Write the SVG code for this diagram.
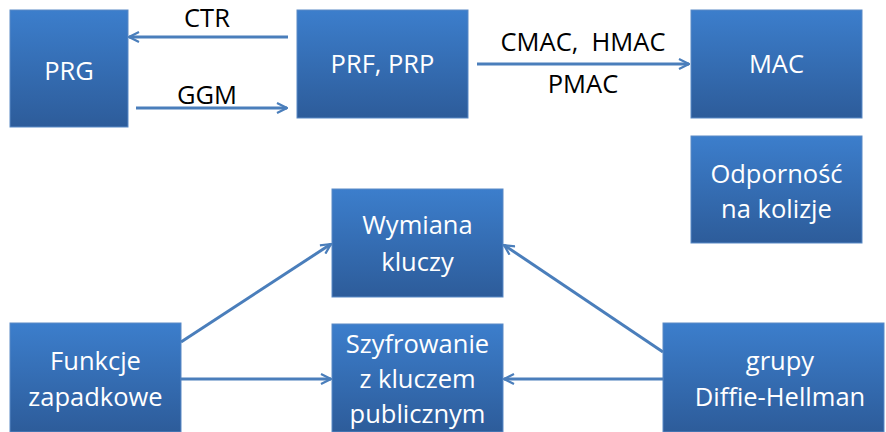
<svg xmlns="http://www.w3.org/2000/svg" width="886" height="432" viewBox="0 0 886 432">
<defs>
<linearGradient id="g" x1="0" y1="0" x2="0" y2="1">
<stop offset="0" stop-color="#3C7ECC"/>
<stop offset="1" stop-color="#2D5C9A"/>
</linearGradient>
<marker id="a" viewBox="0 0 12 12" refX="11" refY="6" markerWidth="12" markerHeight="12" markerUnits="userSpaceOnUse" orient="auto">
<path d="M1,1 L11,6 L1,11" fill="none" stroke="#4A7EBB" stroke-width="2.2"/>
</marker>
<style>
.b{fill:url(#g);stroke:#5A8AC6;stroke-width:1}
.t{font-family:"Open Sans","Noto Sans",sans-serif;font-size:25.5px;fill:#fff;text-anchor:middle}
.l{font-family:"Open Sans","Noto Sans",sans-serif;font-size:25.5px;fill:#000;text-anchor:middle}
.c{stroke:#4A7EBB;stroke-width:3;fill:none;marker-end:url(#a)}
</style>
</defs>
<g id="prg"><rect class="b" x="10" y="10" width="118" height="117"/><text class="t" x="69" y="80">PRG</text></g>
<g id="prf"><rect class="b" x="297" y="10" width="171" height="108"/><text class="t" x="382.5" y="73">PRF, PRP</text></g>
<g id="mac"><rect class="b" x="691" y="10" width="171" height="108"/><text class="t" x="776.5" y="73">MAC</text></g>
<g id="odp"><rect class="b" x="691" y="136" width="171" height="107"/><text class="t" x="776.5" y="183">Odporność</text><text class="t" x="776.5" y="218">na kolizje</text></g>
<g id="wym"><rect class="b" x="332" y="189" width="171" height="108"/><text class="t" x="417.5" y="234">Wymiana</text><text class="t" x="417.5" y="271">kluczy</text></g>
<g id="szy"><rect class="b" x="332" y="324" width="171" height="108"/><text class="t" x="417.5" y="353">Szyfrowanie</text><text class="t" x="417.5" y="388">z kluczem</text><text class="t" x="417.5" y="423">publicznym</text></g>
<g id="fun"><rect class="b" x="10" y="323" width="171" height="109"/><text class="t" x="95.5" y="370">Funkcje</text><text class="t" x="95.5" y="406">zapadkowe</text></g>
<g id="gru"><rect class="b" x="663" y="323" width="221" height="109"/><text class="t" x="780" y="370">grupy</text><text class="t" x="780" y="406">Diffie-Hellman</text></g>
<g id="connectors">
<path class="c" d="M288,37 L129,37"/>
<path class="c" d="M136,108 L287,108"/>
<path class="c" d="M477,64 L689,64"/>
<path class="c" d="M181,342 L331,244"/>
<path class="c" d="M181,379 L331,379"/>
<path class="c" d="M663,352 L504,245"/>
<path class="c" d="M663,379 L504,379"/>
</g>
<g id="labels">
<text class="l" x="207" y="27">CTR</text>
<text class="l" x="207" y="104">GGM</text>
<text class="l" x="583" y="51" xml:space="preserve">CMAC,  HMAC</text>
<text class="l" x="583" y="93">PMAC</text>
</g>
</svg>
